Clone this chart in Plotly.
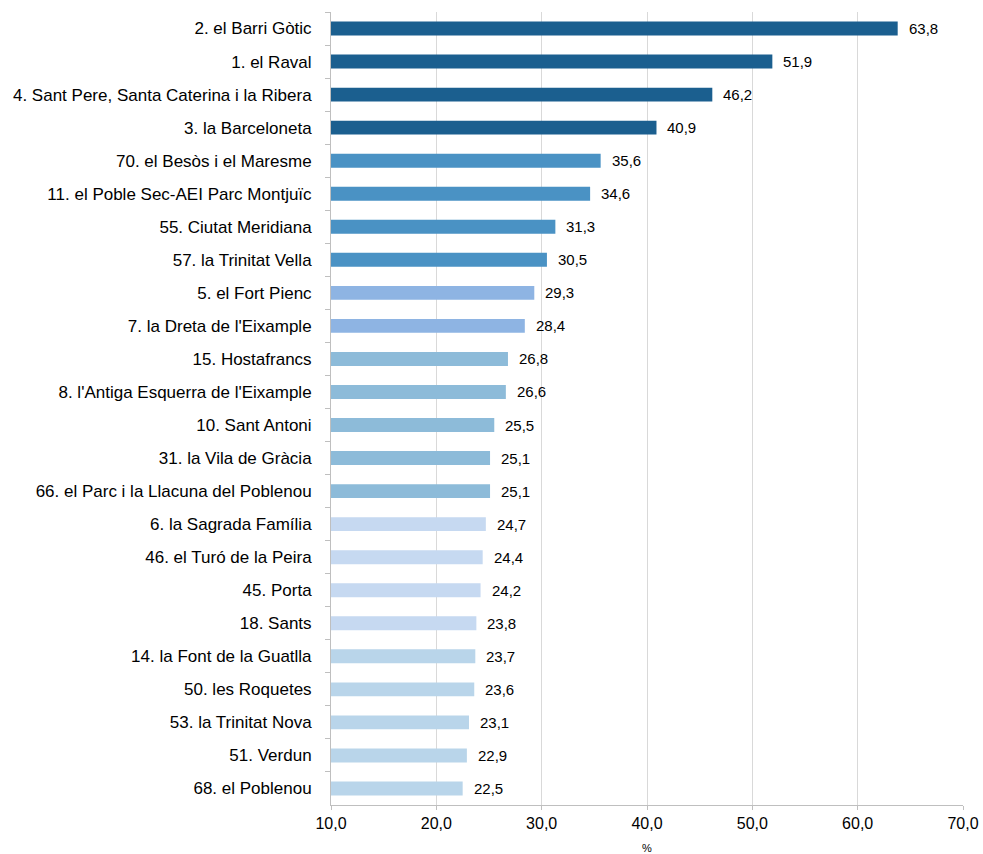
import plotly.graph_objects as go

categories = [
    "2. el Barri Gòtic",
    "1. el Raval",
    "4. Sant Pere, Santa Caterina i la Ribera",
    "3. la Barceloneta",
    "70. el Besòs i el Maresme",
    "11. el Poble Sec-AEI Parc Montjuïc",
    "55. Ciutat Meridiana",
    "57. la Trinitat Vella",
    "5. el Fort Pienc",
    "7. la Dreta de l'Eixample",
    "15. Hostafrancs",
    "8. l'Antiga Esquerra de l'Eixample",
    "10. Sant Antoni",
    "31. la Vila de Gràcia",
    "66. el Parc i la Llacuna del Poblenou",
    "6. la Sagrada Família",
    "46. el Turó de la Peira",
    "45. Porta",
    "18. Sants",
    "14. la Font de la Guatlla",
    "50. les Roquetes",
    "53. la Trinitat Nova",
    "51. Verdun",
    "68. el Poblenou",
]
values = [63.8, 51.9, 46.2, 40.9, 35.6, 34.6, 31.3, 30.5, 29.3, 28.4, 26.8, 26.6,
          25.5, 25.1, 25.1, 24.7, 24.4, 24.2, 23.8, 23.7, 23.6, 23.1, 22.9, 22.5]
groups = [0, 0, 0, 0, 1, 1, 1, 1, 2, 2, 3, 3, 3, 3, 3, 4, 4, 4, 4, 5, 5, 5, 5, 5]
group_colors = ["#1B5F8F", "#4A92C4", "#8EB4E3", "#8DBBD9", "#C6D9F1", "#B9D5EA"]
axis_base = 10

fmt = lambda v: f"{v:.1f}".replace(".", ",")
FONT = "Liberation Sans, Arial, sans-serif"

fig = go.Figure()
fig.add_trace(go.Bar(
    x=[v - axis_base for v in values], y=categories, orientation="h",
    base=axis_base,
    marker=dict(color=[group_colors[g] for g in groups], line=dict(width=0)),
    width=0.42,
    hoverinfo="skip",
))

for c, v in zip(categories, values):
    fig.add_annotation(x=v, y=c, text=fmt(v), showarrow=False, xanchor="left",
                       xshift=9, font=dict(size=15, color="#000000", family=FONT))

fig.update_layout(
    width=983, height=854,
    margin=dict(l=331, r=20, t=12, b=49),
    plot_bgcolor="white", paper_bgcolor="white",
    separators=", ",
    showlegend=False,
    font=dict(family=FONT, color="#000000"),
    xaxis=dict(
        range=[10, 70], dtick=10, tick0=10, tickformat=".1f",
        showgrid=True, gridcolor="#D9D9D9", gridwidth=1,
        showline=True, linecolor="#BFBFBF", linewidth=1,
        ticks="outside", ticklen=4, tickcolor="#BFBFBF",
        tickfont=dict(size=16),
        title=dict(text="%", font=dict(size=11), standoff=14),
        zeroline=False, automargin=False,
    ),
    yaxis=dict(
        autorange="reversed",
        showline=True, linecolor="#BFBFBF", linewidth=1,
        ticks="outside", ticklen=5, tickcolor="#BFBFBF",
        tickson="boundaries",
        tickfont=dict(size=17),
        ticklabelstandoff=15,
        showgrid=False, automargin=False,
    ),
)

fig.write_html(
    "out.html",
    config={"displayModeBar": False},
    post_script="document.body.style.margin='0';"
                "document.documentElement.style.overflow='hidden';"
                "document.body.style.overflow='hidden';",
)
